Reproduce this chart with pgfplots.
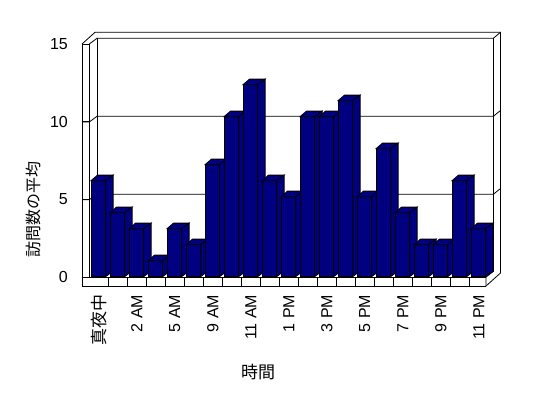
\documentclass[border=0pt]{standalone}
\usepackage{pgfplots}
\pgfplotsset{compat=1.18}
\usepackage{fontspec}
\setmainfont{Liberation Sans}
\newfontfamily\cjk{Noto Sans CJK JP}
\definecolor{barblue}{RGB}{0,0,128}

% 3D bar drawn at the data point (origin = top centre of the bar)
\pgfdeclareplotmark{bar3d}{%
  \pgfmathsetlengthmacro\hh{\ry*16bp}%
  \pgfpathrectanglecorners{\pgfpoint{-7.8bp}{0pt}}{\pgfpoint{6.8bp}{-\hh}}%
  \pgfusepathqfillstroke
  \pgfpathmoveto{\pgfpoint{-7.8bp}{0pt}}%
  \pgfpathlineto{\pgfpoint{-1.3bp}{5.6bp}}%
  \pgfpathlineto{\pgfpoint{14.3bp}{5.6bp}}%
  \pgfpathlineto{\pgfpoint{6.8bp}{0pt}}%
  \pgfpathclose
  \pgfusepathqfillstroke
  \pgfpathmoveto{\pgfpoint{6.8bp}{0pt}}%
  \pgfpathlineto{\pgfpoint{14.3bp}{5.6bp}}%
  \pgfpathlineto{\pgfpoint{14.3bp}{5.6bp-\hh}}%
  \pgfpathlineto{\pgfpoint{6.8bp}{-\hh}}%
  \pgfpathclose
  \pgfusepathqfillstroke
}

\begin{document}
\begin{tikzpicture}[x=1bp,y=1bp]
\fill[white] (0,0) rectangle (548,398);
\useasboundingbox (0,0) rectangle (548,398);

% ---- 3D frame (walls and floor) ----
\begin{scope}[line width=0.8bp, black]
  % left wall
  \draw (82,354) -- (82,112) -- (486,112);
  \draw (89.3,354) -- (89.3,121) -- (486,121);
  \draw (82,354) -- (89.3,354);
  \draw (82,354) -- (95,365.7) -- (500.5,365.7) -- (500.5,125);
  \draw (89.3,354) -- (97,359.7) -- (493.3,359.7) -- (500.5,365.7);
  \draw (97,359.7) -- (97,126.5);
  \draw (493.3,359.7) -- (493.3,126.5);
  % floor right end
  \draw (486,112) -- (486,121) -- (493.3,126.5);
  \draw (486,112) -- (500.5,125);
  % gridlines on the back wall
  \draw (82,198.3) -- (89.3,198.3) -- (97,203.7) -- (493.3,203.7) -- (500.5,209.5);
  \draw (82,276) -- (89.3,276) -- (97,281.7) -- (493.3,281.7) -- (500.5,287.5);
  % category separators on the floor front
  \foreach \i in {1,...,20} {\draw (89.3+19*\i,112) -- (89.3+19*\i,121);}
\end{scope}

% ---- value axis (front-left) ----
\begin{axis}[
  at={(82bp,121bp)}, anchor=south west,
  scale only axis, width=7.3bp, height=233bp,
  xmin=0, xmax=1, ymin=0, ymax=15,
  hide x axis, axis y line*=left,
  axis line style={line width=0.8bp},
  ytick={0,5,10,15},
  tick align=inside, major tick length=7.3bp,
  tick style={line width=0.8bp, black},
  /pgf/number format/assume math mode=true,
  yticklabel style={font=\fontsize{16bp}{18bp}\selectfont, anchor=east, inner sep=0pt, xshift=-14bp},
]
\end{axis}

% ---- bars ----
\begin{axis}[
  at={(89.3bp,121.3bp)}, anchor=south west,
  scale only axis, width=399bp, height=240bp,
  xmin=-0.5, xmax=20.5, ymin=0, ymax=15,
  clip=false,
  axis line style={draw=none},
  major tick length=0pt,
  ytick=\empty,
  xtick={0,2,4,6,8,10,12,14,16,18,20},
  xticklabels={{\cjk\fontsize{17bp}{18bp}\selectfont 真夜中},2 AM,5 AM,9 AM,11 AM,1 PM,3 PM,5 PM,7 PM,9 PM,11 PM},
  xticklabel style={font=\fontsize{16bp}{18bp}\selectfont, rotate=90, anchor=east, inner sep=0pt},
  xticklabel shift=18bp,
  xlabel={時間},
  ylabel={訪問数の平均},
  every axis x label/.style={at={(axis description cs:0.423,-0.397)}, anchor=center, font=\cjk\fontsize{17bp}{18bp}\selectfont},
  every axis y label/.style={at={(axis description cs:-0.141,0.278)}, rotate=90, anchor=center, font=\cjk\fontsize{16bp}{18bp}\selectfont},
]
\addplot[scatter, only marks, mark=bar3d,
  visualization depends on={rawy \as \ry},
  scatter/use mapped color={draw=black, fill=barblue},
  mark options={line width=0.8bp}]
  coordinates {
  (0,6) (1,4) (2,3) (3,1) (4,3) (5,2) (6,7) (7,10) (8,12) (9,6) (10,5)
  (11,10) (12,10) (13,11) (14,5) (15,8) (16,4) (17,2) (18,2) (19,6) (20,3)
  };
\end{axis}
\end{tikzpicture}
\end{document}
